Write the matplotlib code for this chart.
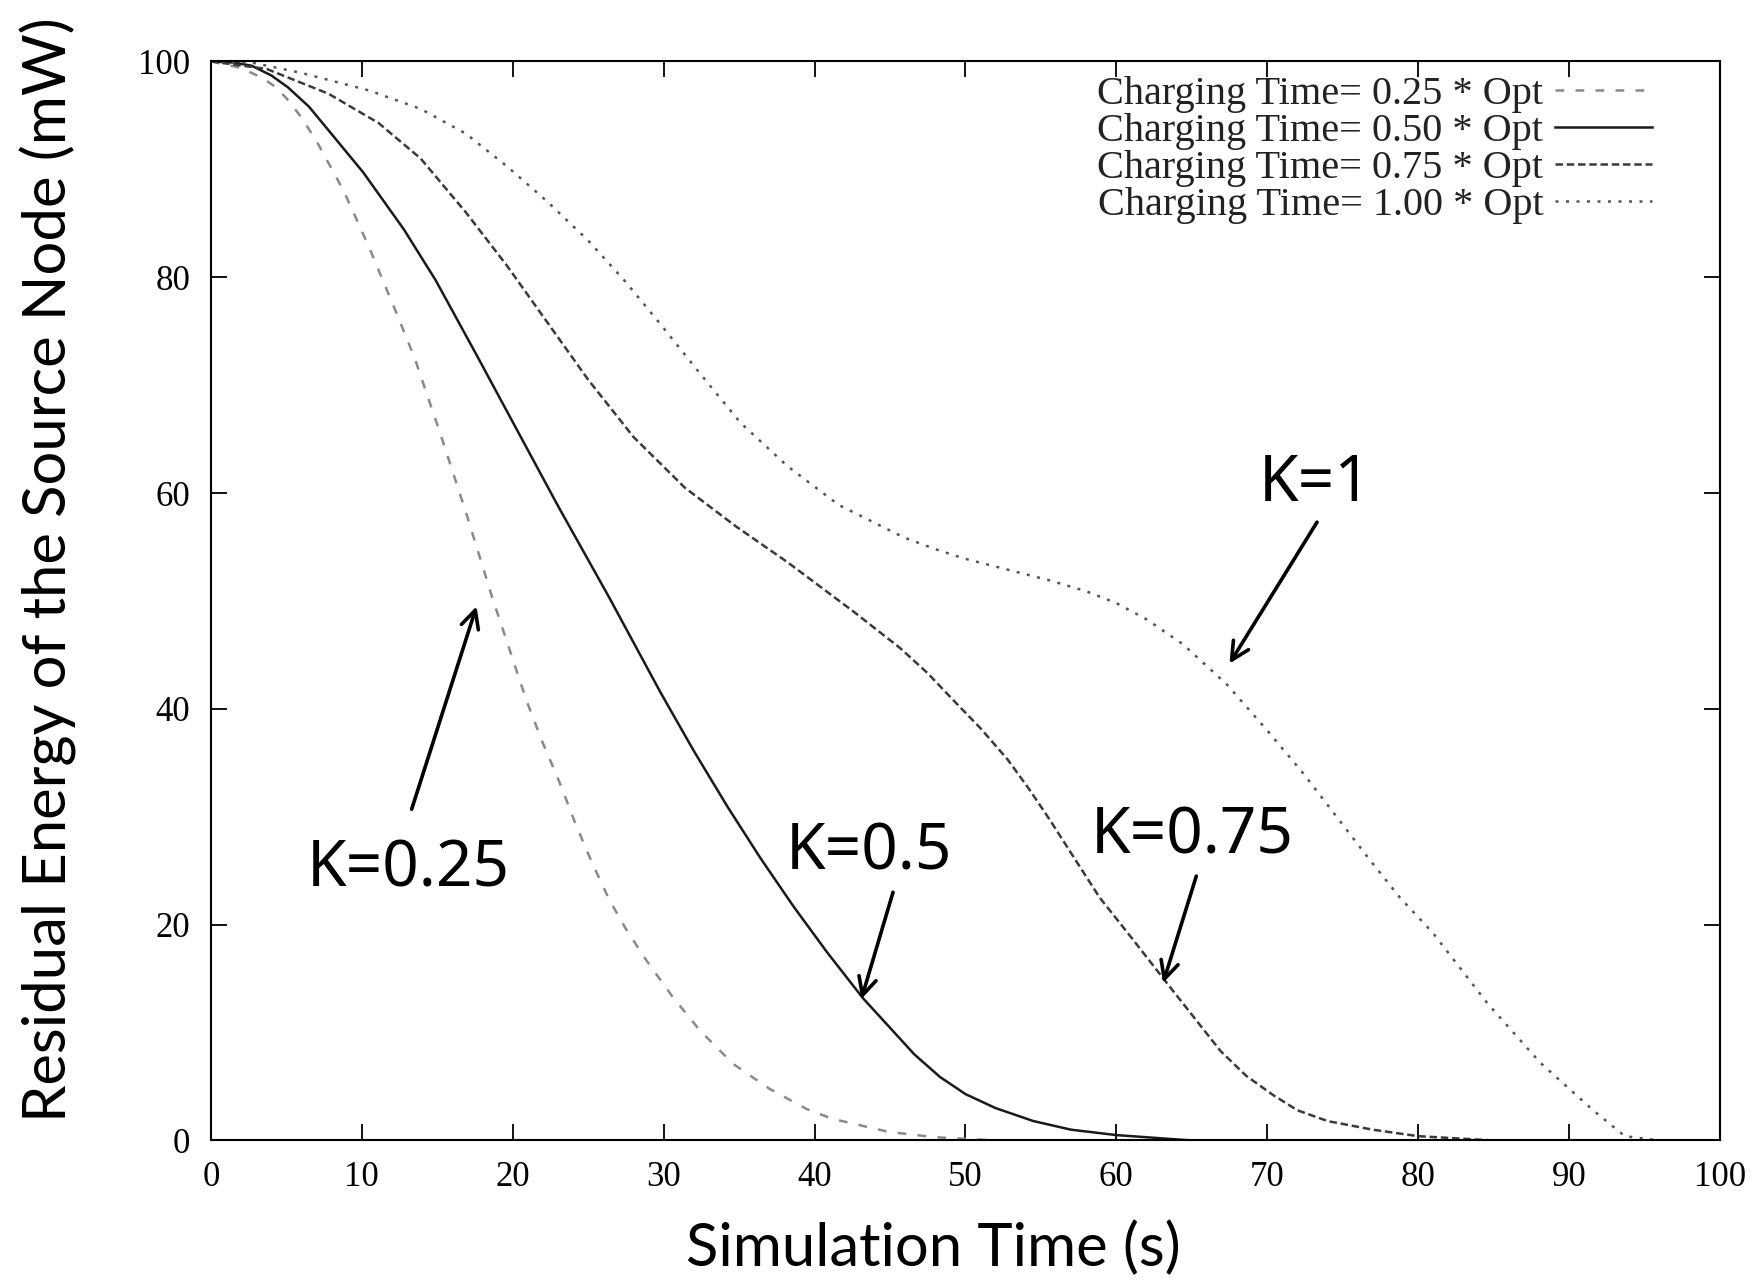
# Residual energy of the source node vs simulation time, for four charging times.
import matplotlib
matplotlib.use("Agg")
import matplotlib.pyplot as plt

# values (time in s, energy in mW)
t_025 = [0, 2, 3.5, 4.2, 5, 6, 7, 8.8, 10.5, 12.2, 13.5, 15.2, 16.9, 18.6, 20.9, 22.0, 23.1, 24.2,
         25.3, 26.4, 27.5, 28.9, 30.6, 32.4, 34.6, 37.0, 39.5, 41.2, 44.9, 48, 52, 96]
e_025 = [100, 99.4, 98.4, 97.7, 96.6, 94.8, 92.6, 88.0, 82.7, 77.0, 72.5, 65.5, 58.2, 50.5, 40.8, 36.8, 33.2, 29.2,
         25.6, 22.3, 19.6, 16.6, 13.3, 10.2, 7.1, 4.8, 2.9, 2.0, 0.8, 0.3, 0, 0]

t_050 = [0, 1.5, 2.7, 4, 5.1, 6.5, 7.8, 10.1, 12.8, 14.9, 17.6, 20.3, 23.0, 26.4, 29.8, 32.0, 34.2, 36.4,
         38.6, 40.8, 43.2, 46.6, 48.3, 50, 52, 54.5, 57, 60, 65, 96]
e_050 = [100, 99.9, 99.6, 98.7, 97.6, 95.8, 93.6, 89.7, 84.4, 79.7, 72.8, 65.8, 58.8, 50.3, 41.5, 36.1, 31.0, 26.2,
         21.7, 17.5, 13.2, 8.0, 5.9, 4.3, 3.0, 1.8, 1.0, 0.5, 0, 0]

t_075 = [0, 3.7, 7.8, 11.1, 13.9, 16.9, 19.6, 22.3, 25.0, 28.0, 31.4, 34.8, 38.2, 42.6, 45.7, 47.5,
         49.2, 51, 52.8, 54.2, 55.6, 57.2, 58.9, 61, 63.4, 66.9, 68.6, 70.4, 72, 74.0, 77, 80, 85, 96]
e_075 = [100, 99.3, 97.0, 94.3, 91.0, 86.0, 81.1, 75.8, 70.5, 65.2, 60.5, 56.9, 53.6, 49.0, 45.6, 43.3,
         40.8, 38.2, 35.3, 32.6, 29.7, 26.2, 22.5, 18.8, 14.5, 8.3, 6.0, 4.2, 2.8, 1.8, 1.0, 0.4, 0, 0]

t_100 = [0, 2.7, 6.1, 10.5, 13.9, 16.9, 19.6, 22.3, 25.0, 27.4, 29.7, 32.4, 35.1, 38.2, 41.6,
         45.9, 48, 50, 55.6, 58, 60, 62, 64.4, 67.3, 70.0, 72.4, 74.6, 76.8, 78.8, 81.0, 84.6,
         88.1, 91.6, 93.7, 96]
e_100 = [100, 99.9, 98.9, 97.3, 95.6, 93.3, 90.3, 87.0, 83.4, 79.7, 75.8, 71.1, 66.5, 62.5, 58.9,
         55.9, 54.8, 53.9, 51.9, 50.9, 49.8, 48.3, 46.0, 42.3, 38.0, 34.0, 30.0, 26.0, 22.5, 19.2, 12.7,
         7.2, 2.8, 0.4, 0]

labels = ["Charging Time= 0.25 * Opt", "Charging Time= 0.50 * Opt",
          "Charging Time= 0.75 * Opt", "Charging Time= 1.00 * Opt"]

# curve annotations: text, text position, arrow start, arrow tip
notes = [
    ("K=0.25", (13.1, 23.5), (13.3, 30.7), (17.6, 49.5)),
    ("K=0.5", (43.6, 25.1), (45.2, 23.0), (43.1, 13.1)),
    ("K=0.75", (65.0, 26.6), (65.3, 24.5), (63.1, 14.6)),
    ("K=1", (73.2, 59.3), (73.3, 57.3), (67.5, 44.2)),
]

serif = "Liberation Serif"

fig = plt.figure(figsize=(17.64, 12.8), dpi=100)
ax = fig.add_axes([0.1196, 0.109, 0.8554, 0.843])

ax.plot(t_025, e_025, color="#8a8a8a", lw=1.8, dashes=(3.5, 4.5), label=labels[0])
ax.plot(t_050, e_050, color="#1a1a1a", lw=1.8, label=labels[1])
ax.plot(t_075, e_075, color="#3a3a3a", lw=1.8, dashes=(3, 1.5), label=labels[2])
ax.plot(t_100, e_100, color="#555555", lw=1.8, dashes=(1.2, 3), label=labels[3])

ax.set_xlim(0, 100)
ax.set_ylim(0, 100)
ax.set_xticks(range(0, 101, 10))
ax.set_yticks(range(0, 101, 20))
ax.tick_params(direction="in", length=11.5, width=1.3, top=True, right=True,
               labelsize=25, pad=15)
for lab in ax.get_xticklabels() + ax.get_yticklabels():
    lab.set_fontfamily(serif)
for sp in ax.spines.values():
    sp.set_linewidth(1.5)

leg = ax.legend(loc="upper right", bbox_to_anchor=(0.955, 0.987), frameon=False,
                markerfirst=False, handlelength=2.4, handletextpad=0.3,
                labelspacing=0.0, borderpad=0, borderaxespad=0,
                prop={"family": serif, "size": 29})
for txt in leg.get_texts():
    txt.set_color("#222222")

for text, tpos, start, tip in notes:
    ax.text(tpos[0], tpos[1], text, ha="center", va="baseline",
            fontsize=46, family="Noto Sans")
    ax.annotate("", xy=tip, xytext=start,
                arrowprops=dict(arrowstyle="->", lw=2.6, color="black",
                                mutation_scale=32, shrinkA=0, shrinkB=0))

fig.text(0.0275, 0.555, "Residual Energy of the Source Node (mW)", rotation=90,
         ha="center", va="center", fontsize=43, family="Lato")
fig.text(0.529, 0.025, "Simulation Time (s)", ha="center", va="center",
         fontsize=43, family="Lato")

fig.savefig("out.png", dpi=100)
